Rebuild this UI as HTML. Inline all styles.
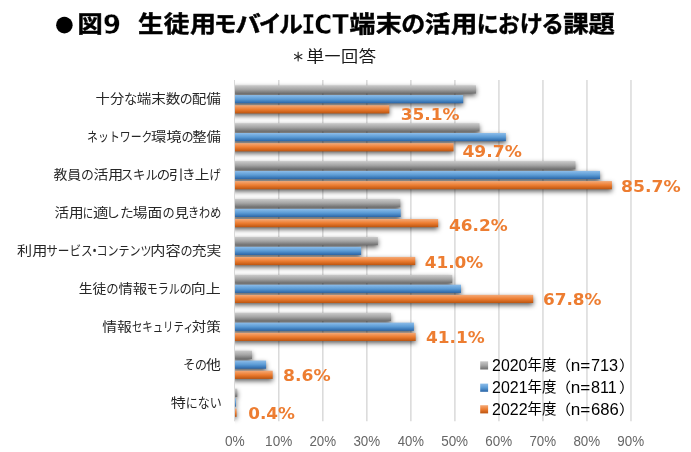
<!DOCTYPE html>
<html lang="ja"><head><meta charset="utf-8"><title>図9 生徒用モバイルICT端末の活用における課題</title>
<style>html,body{margin:0;padding:0;background:#fff}svg{display:block}text{font-family:"Liberation Sans", "Noto Sans CJK JP", sans-serif}.n{font-family:"DejaVu Sans", "Liberation Sans", sans-serif}.l{font-family:"Liberation Sans", sans-serif}.s{font-family:"DejaVu Sans Mono","Liberation Mono",monospace}</style></head><body>
<svg width="691" height="452" viewBox="0 0 691 452">
<defs>
<linearGradient id="gG" x1="0" y1="0" x2="0" y2="1"><stop offset="0" stop-color="#cacaca"/><stop offset="0.5" stop-color="#a4a4a4"/><stop offset="1" stop-color="#6e6e6e"/></linearGradient>
<linearGradient id="gB" x1="0" y1="0" x2="0" y2="1"><stop offset="0" stop-color="#8dbdea"/><stop offset="0.5" stop-color="#5b9bd5"/><stop offset="1" stop-color="#2964a6"/></linearGradient>
<linearGradient id="gO" x1="0" y1="0" x2="0" y2="1"><stop offset="0" stop-color="#f4aa78"/><stop offset="0.5" stop-color="#ed7d31"/><stop offset="1" stop-color="#bb540f"/></linearGradient>
<filter id="sh" x="-5%" y="-5%" width="110%" height="110%"><feGaussianBlur stdDeviation="2.4"/></filter>
<clipPath id="cp"><rect x="235" y="0" width="500" height="452"/></clipPath>
</defs>
<rect width="691" height="452" fill="#fff"/>
<path d="M278.82 80.0V421.3M322.84 80.0V421.3M366.86 80.0V421.3M410.88 80.0V421.3M454.90 80.0V421.3M498.92 80.0V421.3M542.94 80.0V421.3M586.96 80.0V421.3M630.98 80.0V421.3" stroke="#d0d0d0" stroke-width="1.2" fill="none"/>
<path d="M234.5 80.0V421.3" stroke="#d9d9d9" stroke-width="1" fill="none"/>
<g clip-path="url(#cp)"><g filter="url(#sh)" fill="#000" fill-opacity="0.64">
<rect x="232.0" y="87.50" width="243.97" height="8.20"/>
<rect x="232.0" y="97.27" width="231.21" height="8.20"/>
<rect x="232.0" y="107.44" width="157.29" height="8.20"/>
<rect x="232.0" y="125.42" width="247.49" height="8.20"/>
<rect x="232.0" y="135.19" width="273.89" height="8.20"/>
<rect x="232.0" y="145.36" width="221.53" height="8.20"/>
<rect x="232.0" y="163.34" width="343.41" height="8.20"/>
<rect x="232.0" y="173.11" width="368.05" height="8.20"/>
<rect x="232.0" y="183.28" width="379.93" height="8.20"/>
<rect x="232.0" y="201.27" width="168.29" height="8.20"/>
<rect x="232.0" y="211.04" width="168.73" height="8.20"/>
<rect x="232.0" y="221.21" width="206.13" height="8.20"/>
<rect x="232.0" y="239.19" width="145.85" height="8.20"/>
<rect x="232.0" y="248.96" width="129.13" height="8.20"/>
<rect x="232.0" y="259.13" width="183.25" height="8.20"/>
<rect x="232.0" y="277.11" width="220.21" height="8.20"/>
<rect x="232.0" y="286.88" width="229.01" height="8.20"/>
<rect x="232.0" y="297.05" width="301.17" height="8.20"/>
<rect x="232.0" y="315.03" width="159.05" height="8.20"/>
<rect x="232.0" y="324.80" width="181.93" height="8.20"/>
<rect x="232.0" y="334.97" width="183.69" height="8.20"/>
<rect x="232.0" y="352.96" width="20.01" height="8.20"/>
<rect x="232.0" y="362.73" width="34.09" height="8.20"/>
<rect x="232.0" y="372.90" width="40.69" height="8.20"/>
<rect x="232.0" y="390.88" width="5.27" height="8.20"/>
<rect x="232.0" y="400.65" width="3.95" height="8.20"/>
<rect x="232.0" y="410.82" width="4.61" height="8.20"/>
</g></g>
<rect x="235.0" y="85.30" width="240.97" height="8.20" fill="url(#gG)"/>
<rect x="235.0" y="95.07" width="228.21" height="8.20" fill="url(#gB)"/>
<rect x="235.0" y="105.24" width="154.29" height="8.20" fill="url(#gO)"/>
<rect x="235.0" y="123.22" width="244.49" height="8.20" fill="url(#gG)"/>
<rect x="235.0" y="132.99" width="270.89" height="8.20" fill="url(#gB)"/>
<rect x="235.0" y="143.16" width="218.53" height="8.20" fill="url(#gO)"/>
<rect x="235.0" y="161.14" width="340.41" height="8.20" fill="url(#gG)"/>
<rect x="235.0" y="170.91" width="365.05" height="8.20" fill="url(#gB)"/>
<rect x="235.0" y="181.08" width="376.93" height="8.20" fill="url(#gO)"/>
<rect x="235.0" y="199.07" width="165.29" height="8.20" fill="url(#gG)"/>
<rect x="235.0" y="208.84" width="165.73" height="8.20" fill="url(#gB)"/>
<rect x="235.0" y="219.01" width="203.13" height="8.20" fill="url(#gO)"/>
<rect x="235.0" y="236.99" width="142.85" height="8.20" fill="url(#gG)"/>
<rect x="235.0" y="246.76" width="126.13" height="8.20" fill="url(#gB)"/>
<rect x="235.0" y="256.93" width="180.25" height="8.20" fill="url(#gO)"/>
<rect x="235.0" y="274.91" width="217.21" height="8.20" fill="url(#gG)"/>
<rect x="235.0" y="284.68" width="226.01" height="8.20" fill="url(#gB)"/>
<rect x="235.0" y="294.85" width="298.17" height="8.20" fill="url(#gO)"/>
<rect x="235.0" y="312.83" width="156.05" height="8.20" fill="url(#gG)"/>
<rect x="235.0" y="322.60" width="178.93" height="8.20" fill="url(#gB)"/>
<rect x="235.0" y="332.77" width="180.69" height="8.20" fill="url(#gO)"/>
<rect x="235.0" y="350.76" width="17.01" height="8.20" fill="url(#gG)"/>
<rect x="235.0" y="360.53" width="31.09" height="8.20" fill="url(#gB)"/>
<rect x="235.0" y="370.70" width="37.69" height="8.20" fill="url(#gO)"/>
<rect x="235.0" y="388.68" width="2.27" height="8.20" fill="url(#gG)"/>
<rect x="235.0" y="398.45" width="0.95" height="8.20" fill="url(#gB)"/>
<rect x="235.0" y="408.62" width="1.61" height="8.20" fill="url(#gO)"/>
<text y="103.26" font-size="13" fill="#262626"><tspan x="95.60" textLength="28.59" lengthAdjust="spacingAndGlyphs">十分</tspan><tspan x="123.97" textLength="13.28" lengthAdjust="spacingAndGlyphs">な</tspan><tspan x="136.67" textLength="43.64" lengthAdjust="spacingAndGlyphs">端末数</tspan><tspan x="179.85" textLength="12.96" lengthAdjust="spacingAndGlyphs">の</tspan><tspan x="191.65" textLength="29.09" lengthAdjust="spacingAndGlyphs">配備</tspan></text>
<text y="141.18" font-size="13" fill="#262626"><tspan x="87.11" textLength="65.35" lengthAdjust="spacingAndGlyphs">ネットワーク</tspan><tspan x="150.96" textLength="30.77" lengthAdjust="spacingAndGlyphs">環境</tspan><tspan x="181.40" textLength="12.10" lengthAdjust="spacingAndGlyphs">の</tspan><tspan x="192.21" textLength="28.65" lengthAdjust="spacingAndGlyphs">整備</tspan></text>
<text y="179.11" font-size="13" fill="#262626"><tspan x="53.47" textLength="27.82" lengthAdjust="spacingAndGlyphs">教員</tspan><tspan x="81.10" textLength="12.86" lengthAdjust="spacingAndGlyphs">の</tspan><tspan x="93.42" textLength="29.72" lengthAdjust="spacingAndGlyphs">活用</tspan><tspan x="120.67" textLength="37.35" lengthAdjust="spacingAndGlyphs">スキル</tspan><tspan x="156.79" textLength="13.39" lengthAdjust="spacingAndGlyphs">の</tspan><tspan x="168.76" textLength="15.12" lengthAdjust="spacingAndGlyphs">引</tspan><tspan x="182.06" textLength="13.58" lengthAdjust="spacingAndGlyphs">き</tspan><tspan x="194.71" textLength="14.73" lengthAdjust="spacingAndGlyphs">上</tspan><tspan x="209.45" textLength="11.29" lengthAdjust="spacingAndGlyphs">げ</tspan></text>
<text y="217.03" font-size="13" fill="#262626"><tspan x="54.47" textLength="29.17" lengthAdjust="spacingAndGlyphs">活用</tspan><tspan x="82.81" textLength="10.57" lengthAdjust="spacingAndGlyphs">に</tspan><tspan x="93.11" textLength="15.46" lengthAdjust="spacingAndGlyphs">適</tspan><tspan x="106.14" textLength="27.64" lengthAdjust="spacingAndGlyphs">した</tspan><tspan x="132.85" textLength="29.50" lengthAdjust="spacingAndGlyphs">場面</tspan><tspan x="162.61" textLength="12.23" lengthAdjust="spacingAndGlyphs">の</tspan><tspan x="174.77" textLength="13.97" lengthAdjust="spacingAndGlyphs">見</tspan><tspan x="187.97" textLength="33.37" lengthAdjust="spacingAndGlyphs">きわめ</tspan></text>
<text y="254.95" font-size="13" fill="#262626"><tspan y="254.95" x="17.13" textLength="30.15" lengthAdjust="spacingAndGlyphs">利用</tspan><tspan y="254.95" x="46.16" textLength="46.63" lengthAdjust="spacingAndGlyphs">サービス</tspan><tspan font-size="13" y="254.95" stroke="#262626" stroke-width="0.5" x="89.45" textLength="10.22" lengthAdjust="spacingAndGlyphs">・</tspan><tspan y="254.95" x="96.47" textLength="55.09" lengthAdjust="spacingAndGlyphs">コンテンツ</tspan><tspan y="254.95" x="150.28" textLength="30.27" lengthAdjust="spacingAndGlyphs">内容</tspan><tspan y="254.95" x="180.40" textLength="12.10" lengthAdjust="spacingAndGlyphs">の</tspan><tspan y="254.95" x="191.81" textLength="29.52" lengthAdjust="spacingAndGlyphs">充実</tspan></text>
<text y="292.87" font-size="13" fill="#262626"><tspan x="78.69" textLength="27.53" lengthAdjust="spacingAndGlyphs">生徒</tspan><tspan x="106.27" textLength="12.37" lengthAdjust="spacingAndGlyphs">の</tspan><tspan x="118.50" textLength="28.73" lengthAdjust="spacingAndGlyphs">情報</tspan><tspan x="146.69" textLength="33.12" lengthAdjust="spacingAndGlyphs">モラル</tspan><tspan x="179.55" textLength="12.36" lengthAdjust="spacingAndGlyphs">の</tspan><tspan x="190.82" textLength="29.87" lengthAdjust="spacingAndGlyphs">向上</tspan></text>
<text y="330.79" font-size="13" fill="#262626"><tspan x="102.30" textLength="29.63" lengthAdjust="spacingAndGlyphs">情報</tspan><tspan x="131.88" textLength="61.78" lengthAdjust="spacingAndGlyphs">セキュリティ</tspan><tspan x="191.82" textLength="29.11" lengthAdjust="spacingAndGlyphs">対策</tspan></text>
<text y="368.72" font-size="13" fill="#262626"><tspan x="183.19" textLength="23.82" lengthAdjust="spacingAndGlyphs">その</tspan><tspan x="206.14" textLength="14.84" lengthAdjust="spacingAndGlyphs">他</tspan></text>
<text y="406.64" font-size="13" fill="#262626"><tspan x="170.72" textLength="15.09" lengthAdjust="spacingAndGlyphs">特</tspan><tspan x="185.72" textLength="36.06" lengthAdjust="spacingAndGlyphs">にない</tspan></text>
<text class="n" x="400.68" y="120.30" font-size="16.5" font-weight="bold" fill="#ed7d31" textLength="58.89" lengthAdjust="spacingAndGlyphs">35.1%</text>
<text class="n" x="462.44" y="156.80" font-size="16.5" font-weight="bold" fill="#ed7d31" textLength="59.35" lengthAdjust="spacingAndGlyphs">49.7%</text>
<text class="n" x="621.09" y="192.00" font-size="16.5" font-weight="bold" fill="#ed7d31" textLength="59.61" lengthAdjust="spacingAndGlyphs">85.7%</text>
<text class="n" x="448.99" y="230.50" font-size="16.5" font-weight="bold" fill="#ed7d31" textLength="58.72" lengthAdjust="spacingAndGlyphs">46.2%</text>
<text class="n" x="424.68" y="267.50" font-size="16.5" font-weight="bold" fill="#ed7d31" textLength="58.60" lengthAdjust="spacingAndGlyphs">41.0%</text>
<text class="n" x="542.90" y="304.70" font-size="16.5" font-weight="bold" fill="#ed7d31" textLength="58.61" lengthAdjust="spacingAndGlyphs">67.8%</text>
<text class="n" x="425.99" y="343.40" font-size="16.5" font-weight="bold" fill="#ed7d31" textLength="58.72" lengthAdjust="spacingAndGlyphs">41.1%</text>
<text class="n" x="283.09" y="380.80" font-size="16.5" font-weight="bold" fill="#ed7d31" textLength="47.62" lengthAdjust="spacingAndGlyphs">8.6%</text>
<text class="n" x="248.23" y="418.90" font-size="16.5" font-weight="bold" fill="#ed7d31" textLength="46.77" lengthAdjust="spacingAndGlyphs">0.4%</text>
<text class="l" x="224.93" y="445.70" font-size="15.2" fill="#666" textLength="19.81" lengthAdjust="spacingAndGlyphs">0%</text>
<text class="l" x="265.10" y="445.70" font-size="15.2" fill="#666" textLength="27.11" lengthAdjust="spacingAndGlyphs">10%</text>
<text class="l" x="309.45" y="445.70" font-size="15.2" fill="#666" textLength="26.68" lengthAdjust="spacingAndGlyphs">20%</text>
<text class="l" x="353.42" y="445.70" font-size="15.2" fill="#666" textLength="26.78" lengthAdjust="spacingAndGlyphs">30%</text>
<text class="l" x="397.76" y="445.70" font-size="15.2" fill="#666" textLength="26.30" lengthAdjust="spacingAndGlyphs">40%</text>
<text class="l" x="441.15" y="445.70" font-size="15.2" fill="#666" textLength="26.94" lengthAdjust="spacingAndGlyphs">50%</text>
<text class="l" x="485.34" y="445.70" font-size="15.2" fill="#666" textLength="26.81" lengthAdjust="spacingAndGlyphs">60%</text>
<text class="l" x="529.40" y="445.70" font-size="15.2" fill="#666" textLength="26.70" lengthAdjust="spacingAndGlyphs">70%</text>
<text class="l" x="573.42" y="445.70" font-size="15.2" fill="#666" textLength="26.79" lengthAdjust="spacingAndGlyphs">80%</text>
<text class="l" x="617.34" y="445.70" font-size="15.2" fill="#666" textLength="26.81" lengthAdjust="spacingAndGlyphs">90%</text>
<rect x="480.2" y="361.3" width="7.9" height="8.2" fill="url(#gG)"/>
<text y="370.05" font-size="15.3" fill="#000"><tspan class="l" font-size="15.6" y="371.00" x="492.07" textLength="35.36" lengthAdjust="spacingAndGlyphs">2020</tspan><tspan y="370.05" x="527.56" textLength="28.92" lengthAdjust="spacingAndGlyphs">年度</tspan><tspan font-size="14.2" y="369.80" x="555.16" textLength="15.94" lengthAdjust="spacingAndGlyphs">（</tspan><tspan class="l" font-size="15.6" y="371.00" x="570.83" textLength="19.54" lengthAdjust="spacingAndGlyphs">n=</tspan><tspan class="l" font-size="15.6" y="371.00" x="590.90" textLength="27.19" lengthAdjust="spacingAndGlyphs">713</tspan><tspan font-size="14.2" y="369.80" x="619.02" textLength="15.67" lengthAdjust="spacingAndGlyphs">）</tspan></text>
<rect x="480.2" y="383.6" width="7.9" height="8.2" fill="url(#gB)"/>
<text y="392.05" font-size="15.3" fill="#000"><tspan class="l" font-size="15.6" y="393.00" x="492.05" textLength="35.52" lengthAdjust="spacingAndGlyphs">2021</tspan><tspan y="392.05" x="527.56" textLength="28.92" lengthAdjust="spacingAndGlyphs">年度</tspan><tspan font-size="14.2" y="391.80" x="555.16" textLength="15.94" lengthAdjust="spacingAndGlyphs">（</tspan><tspan class="l" font-size="15.6" y="393.00" x="570.83" textLength="19.54" lengthAdjust="spacingAndGlyphs">n=</tspan><tspan class="l" font-size="15.6" y="393.00" x="591.02" textLength="25.86" lengthAdjust="spacingAndGlyphs">811</tspan><tspan font-size="14.2" y="391.80" x="619.02" textLength="15.67" lengthAdjust="spacingAndGlyphs">）</tspan></text>
<rect x="480.2" y="405.2" width="7.9" height="8.2" fill="url(#gO)"/>
<text y="414.15" font-size="15.3" fill="#000"><tspan class="l" font-size="15.6" y="415.10" x="492.04" textLength="35.57" lengthAdjust="spacingAndGlyphs">2022</tspan><tspan y="414.15" x="527.56" textLength="28.92" lengthAdjust="spacingAndGlyphs">年度</tspan><tspan font-size="14.2" y="413.90" x="555.16" textLength="15.94" lengthAdjust="spacingAndGlyphs">（</tspan><tspan class="l" font-size="15.6" y="415.10" x="570.83" textLength="19.54" lengthAdjust="spacingAndGlyphs">n=</tspan><tspan class="l" font-size="15.6" y="415.10" x="590.94" textLength="27.78" lengthAdjust="spacingAndGlyphs">686</tspan><tspan font-size="14.2" y="413.90" x="619.02" textLength="15.67" lengthAdjust="spacingAndGlyphs">）</tspan></text>
<text class="l" x="52.81" y="35.50" font-size="38.7" font-weight="bold" fill="#000" textLength="23.26" lengthAdjust="spacingAndGlyphs">●</text>
<text y="32.40" font-size="23" font-weight="bold" fill="#000" stroke="#000" stroke-width="0.45"><tspan y="32.40" x="77.40" textLength="25.21" lengthAdjust="spacingAndGlyphs">図</tspan><tspan class="n" font-size="26" y="33.70" stroke="#fff" stroke-width="0.4" x="102.79" textLength="18.34" lengthAdjust="spacingAndGlyphs">9</tspan> <tspan y="32.40" x="138.06" textLength="25.41" lengthAdjust="spacingAndGlyphs">生</tspan><tspan y="32.40" x="163.69" textLength="25.60" lengthAdjust="spacingAndGlyphs">徒</tspan><tspan y="32.40" x="190.11" textLength="25.98" lengthAdjust="spacingAndGlyphs">用</tspan><tspan y="32.40" x="213.97" textLength="22.53" lengthAdjust="spacingAndGlyphs">モ</tspan><tspan y="32.40" x="235.39" textLength="25.59" lengthAdjust="spacingAndGlyphs">バ</tspan><tspan y="32.40" x="258.84" textLength="22.71" lengthAdjust="spacingAndGlyphs">イ</tspan><tspan y="32.40" x="279.31" textLength="23.59" lengthAdjust="spacingAndGlyphs">ル</tspan><tspan class="s" font-size="26" y="33.60" stroke="#fff" stroke-width="0.4" x="301.25" textLength="14.19" lengthAdjust="spacingAndGlyphs">I</tspan><tspan class="n" font-size="26" y="33.60" stroke="#fff" stroke-width="0.4" x="314.36" textLength="34.63" lengthAdjust="spacingAndGlyphs">CT</tspan><tspan y="32.40" x="349.40" textLength="25.80" lengthAdjust="spacingAndGlyphs">端</tspan><tspan y="32.40" x="375.71" textLength="26.00" lengthAdjust="spacingAndGlyphs">末</tspan><tspan y="32.40" x="401.25" textLength="23.98" lengthAdjust="spacingAndGlyphs">の</tspan><tspan y="32.40" x="424.65" textLength="25.69" lengthAdjust="spacingAndGlyphs">活</tspan><tspan y="32.40" x="451.11" textLength="26.32" lengthAdjust="spacingAndGlyphs">用</tspan><tspan y="32.40" x="476.72" textLength="22.02" lengthAdjust="spacingAndGlyphs">に</tspan><tspan y="32.40" x="497.69" textLength="21.93" lengthAdjust="spacingAndGlyphs">お</tspan><tspan y="32.40" x="519.80" textLength="23.16" lengthAdjust="spacingAndGlyphs">け</tspan><tspan y="32.40" x="541.13" textLength="22.70" lengthAdjust="spacingAndGlyphs">る</tspan><tspan y="32.40" x="563.19" textLength="25.53" lengthAdjust="spacingAndGlyphs">課</tspan><tspan y="32.40" x="588.54" textLength="26.34" lengthAdjust="spacingAndGlyphs">題</tspan></text>
<text y="62.30" font-size="16" fill="#1a1a1a"><tspan font-size="12" y="62.40" stroke="#1a1a1a" stroke-width="0.3" x="292.19" textLength="11.91" lengthAdjust="spacingAndGlyphs">＊</tspan><tspan y="62.30" x="306.29" textLength="18.15" lengthAdjust="spacingAndGlyphs">単</tspan><tspan y="62.30" x="324.55" textLength="16.02" lengthAdjust="spacingAndGlyphs">一</tspan><tspan y="62.30" x="341.12" textLength="17.14" lengthAdjust="spacingAndGlyphs">回</tspan><tspan y="62.30" x="358.84" textLength="17.37" lengthAdjust="spacingAndGlyphs">答</tspan></text>
</svg></body></html>
